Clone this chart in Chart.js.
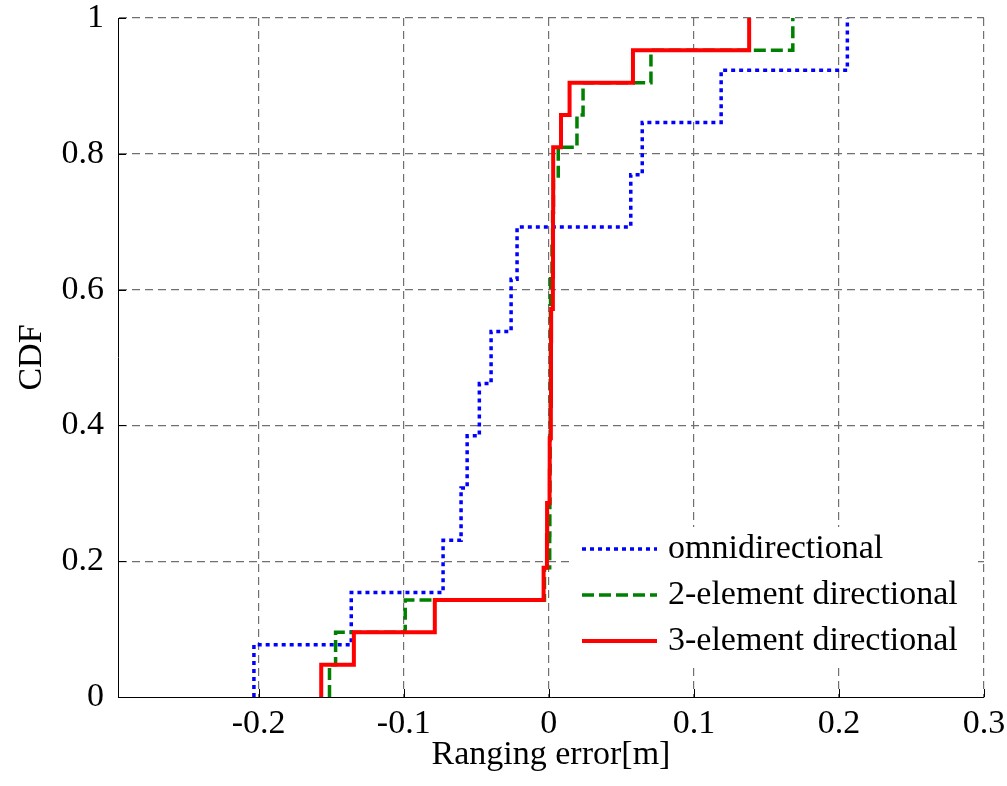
<!DOCTYPE html>
<html>
<head>
<meta charset="utf-8">
<script src="https://cdn.jsdelivr.net/npm/chart.js@4"></script>
<style>
  html, body { margin: 0; padding: 0; background: #fff; }
  canvas { display: block; }
</style>
</head>
<body>
<canvas id="myChart" width="1007" height="786"></canvas>
<script>
// sorted ranging errors [m] of each setup
const omniErr = [-0.2033, -0.1362, -0.0729, -0.0605, -0.0563, -0.0479, -0.0398,
  -0.0260, -0.0219, 0.0565, 0.0644, 0.1188, 0.2058];
const twoElemErr = [-0.1512, -0.1470, -0.0990, -0.0030, 0.0006, 0.0007, 0.0008,
  0.0009, 0.0010, 0.0010, 0.0011, 0.0011, 0.0012, 0.0022, 0.0026, 0.0032,
  0.0065, 0.0194, 0.0236, 0.0704, 0.1682];
const threeElemErr = [-0.1569, -0.1344, -0.0786, -0.0036, -0.0013, -0.0012, 0.0005,
  0.0006, 0.0014, 0.0015, 0.0015, 0.0016, 0.0028, 0.0029, 0.0029, 0.0030,
  0.0030, 0.0084, 0.0143, 0.0580, 0.1381];
const seriesNames = ['omnidirectional', '2-element directional', '3-element directional'];
const xTicks = [-0.2, -0.1, 0, 0.1, 0.2, 0.3];
const yTicks = [0, 0.2, 0.4, 0.6, 0.8, 1];

const FONT = "'Liberation Serif', 'Times New Roman', serif";
const gridColor = '#707070';

// empirical CDF: one step of 1/n at every sample
const cdfPoints = (errs) => {
  const pts = [{ x: errs[0], y: 0 }];
  errs.forEach((e, i) => pts.push({ x: e, y: (i + 1) / errs.length }));
  return pts;
};

// ticks drawn inside the axes + legend with white background
const extras = {
  id: 'extras',
  afterDraw(chart) {
    const { ctx, chartArea: a, scales: { x, y } } = chart;
    ctx.save();
    ctx.strokeStyle = '#000';
    ctx.lineWidth = 1;
    ctx.setLineDash([]);
    ctx.beginPath();
    xTicks.forEach(v => {
      const px = Math.round(x.getPixelForValue(v)) + 0.5;
      ctx.moveTo(px, a.bottom);
      ctx.lineTo(px, a.bottom - 8);
    });
    yTicks.forEach(v => {
      const py = Math.round(y.getPixelForValue(v)) + 0.5;
      ctx.moveTo(a.left, py);
      ctx.lineTo(a.left + 8, py);
    });
    ctx.stroke();

    // legend
    ctx.fillStyle = '#fff';
    ctx.fillRect(573, 527, 405, 138);
    ctx.font = '34px ' + FONT;
    ctx.textBaseline = 'middle';
    ctx.textAlign = 'left';
    chart.data.datasets.forEach((ds, i) => {
      const ly = 549 + i * 46;
      ctx.strokeStyle = ds.borderColor;
      ctx.lineWidth = ds.borderWidth;
      ctx.setLineDash(ds.borderDash || []);
      ctx.beginPath();
      ctx.moveTo(582, ly);
      ctx.lineTo(657, ly);
      ctx.stroke();
      ctx.fillStyle = '#000';
      ctx.fillText(ds.label, 668, ly);
    });
    ctx.restore();
  }
};

const datas = {
  datasets: [{
    label: seriesNames[0],
    data: cdfPoints(omniErr),
    borderColor: '#0000ff',
    borderWidth: 3.5,
    borderDash: [4, 4],
    order: 2
  }, {
    label: seriesNames[1],
    data: cdfPoints(twoElemErr),
    borderColor: '#008000',
    borderWidth: 3.5,
    borderDash: [12, 5],
    order: 1
  }, {
    label: seriesNames[2],
    data: cdfPoints(threeElemErr),
    borderColor: '#ff0000',
    borderWidth: 4,
    order: 0
  }]
};

const config = {
  type: 'line',
  data: datas,
  options: {
    responsive: false,
    animation: false,
    devicePixelRatio: 1,
    layout: { padding: { left: 0, right: 23, top: 18, bottom: 0 } },
    elements: {
      point: { radius: 0 },
      line: { stepped: 'before', fill: false, tension: 0, borderCapStyle: 'butt' }
    },
    plugins: {
      legend: { display: false },
      tooltip: { enabled: false }
    },
    scales: {
      x: {
        type: 'linear',
        min: -0.297,
        max: 0.3,
        afterBuildTicks: s => { s.ticks = xTicks.map(v => ({ value: v })); },
        afterFit: s => { s.height = 89; s.paddingLeft = 0; s.paddingRight = 0; },
        ticks: {
          color: '#000',
          padding: 10,
          maxRotation: 0,
          font: { family: FONT, size: 34, lineHeight: 1 },
          callback: v => String(+v.toFixed(2))
        },
        grid: { color: gridColor, lineWidth: 1.2, drawTicks: false },
        border: { display: true, color: '#000', width: 1, dash: [8, 5] },
        title: {
          display: true,
          text: 'Ranging error[m]',
          color: '#000',
          font: { family: FONT, size: 34, lineHeight: 1.2 },
          padding: { top: 0, bottom: 11 }
        }
      },
      y: {
        type: 'linear',
        min: 0,
        max: 1,
        afterBuildTicks: s => { s.ticks = yTicks.map(v => ({ value: v })); },
        afterFit: s => { s.width = 118; s.paddingTop = 0; s.paddingBottom = 0; },
        ticks: {
          color: '#000',
          padding: 14,
          font: { family: FONT, size: 34, lineHeight: 1 },
          callback: v => String(+v.toFixed(2))
        },
        grid: {
          color: c => (c.tick && c.tick.value === 0) ? 'rgba(0,0,0,0)' : gridColor,
          lineWidth: 1.2,
          drawTicks: false
        },
        border: { display: true, color: '#000', width: 1, dash: [8, 5] },
        title: {
          display: true,
          text: 'CDF',
          color: '#000',
          font: { family: FONT, size: 34, lineHeight: 1.2 },
          padding: { top: 12, bottom: 0 }
        }
      }
    }
  },
  plugins: [extras]
};

const myChart = new Chart(document.getElementById('myChart'), config);
</script>
</body>
</html>
